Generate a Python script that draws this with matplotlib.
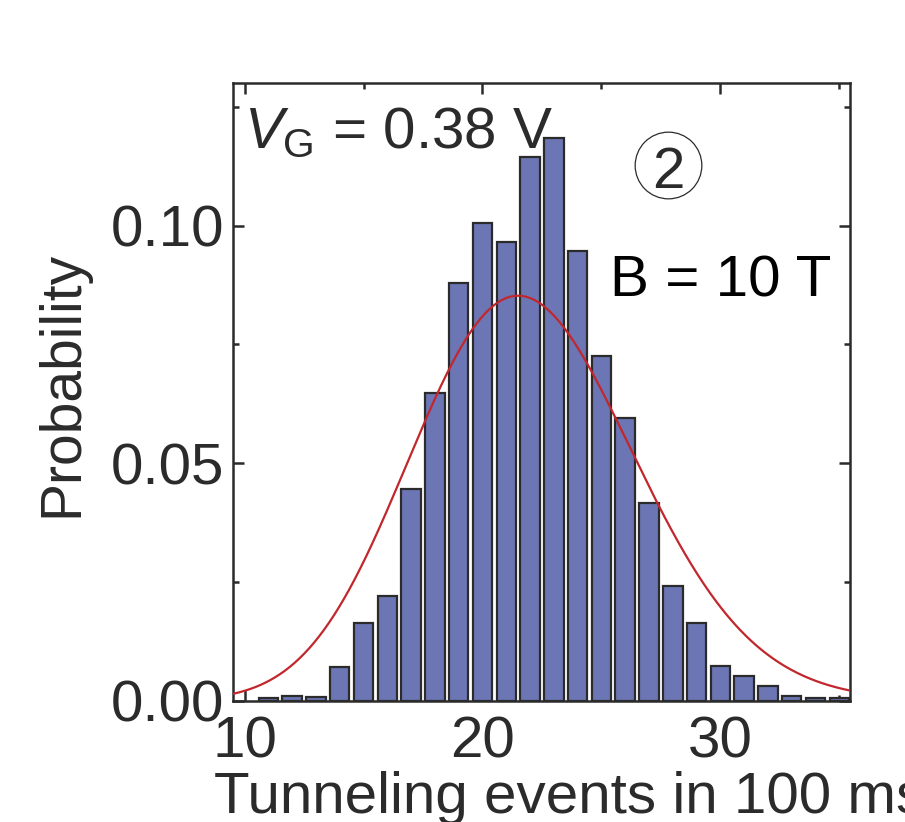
import math
import numpy as np
import matplotlib
matplotlib.use("Agg")
import matplotlib.pyplot as plt
from matplotlib.ticker import MultipleLocator, FormatStrFormatter

# ---- data ----
events = [11, 12, 13, 14, 15, 16, 17, 18, 19, 20, 21, 22, 23,
          24, 25, 26, 27, 28, 29, 30, 31, 32, 33, 34, 35]
probability = [0.0006, 0.0010, 0.0008, 0.0070, 0.0163, 0.0219, 0.0445,
               0.0648, 0.0879, 0.1005, 0.0966, 0.1144, 0.1185, 0.0947,
               0.0725, 0.0595, 0.0415, 0.0241, 0.0163, 0.0072, 0.0052,
               0.0031, 0.0010, 0.0005, 0.0005]
poisson_mean = 22.0          # fitted Poisson parameter (red curve)
x_ticks = [10, 20, 30]
y_ticks = [0.00, 0.05, 0.10]
xlim = (9.5, 35.45)
ylim = (0.0, 0.13)

plt.rcParams['font.family'] = ['Liberation Sans', 'DejaVu Sans']
plt.rcParams['mathtext.fontset'] = 'custom'
plt.rcParams['mathtext.rm'] = 'Liberation Sans'
plt.rcParams['mathtext.it'] = 'Liberation Sans:italic'

dark = '#2b2b2b'
W, H = 905, 822
fig = plt.figure(figsize=(W / 100, H / 100), dpi=100)
ax_l, ax_r, ax_b, ax_t = 232.7, 850.0, 700.5, 83.0
ax = fig.add_axes([ax_l / W, (H - ax_b) / H, (ax_r - ax_l) / W, (ax_b - ax_t) / H])

ax.bar(events, probability, width=0.82, color='#6c76b4', edgecolor=dark,
       linewidth=1.6, zorder=2)

xc = np.linspace(xlim[0], xlim[1], 500)
yc = np.exp(xc * math.log(poisson_mean) - poisson_mean
            - np.array([math.lgamma(v + 1) for v in xc]))
ax.plot(xc, yc, color='#c1272d', lw=1.6, zorder=3)

ax.set_xlim(*xlim)
ax.set_ylim(*ylim)
ax.set_xticks(x_ticks)
ax.set_yticks(y_ticks)
ax.xaxis.set_minor_locator(MultipleLocator(5))
ax.yaxis.set_minor_locator(MultipleLocator(0.025))
ax.yaxis.set_major_formatter(FormatStrFormatter('%.2f'))
ax.tick_params(which='both', direction='in', top=True, right=True,
               color=dark, width=1.8, labelcolor=dark, labelsize=42)
ax.tick_params(which='major', length=8)
ax.tick_params(which='minor', length=4.5)
ax.tick_params(axis='x', which='major', pad=11)
ax.tick_params(axis='y', which='major', pad=6)
for s in ax.spines.values():
    s.set_linewidth(1.8)
    s.set_color(dark)

# axis labels (the x label runs past the right edge, as in the reference)
ax.set_xlabel('Tunneling events in 100 ms', fontsize=42, color=dark,
              ha='left', va='baseline')
ax.xaxis.set_label_coords((214 - ax_l) / (ax_r - ax_l),
                          -(813 - ax_b) / (ax_b - ax_t))
ax.text((77 - ax_l) / (ax_r - ax_l), (ax_b - 384) / (ax_b - ax_t),
        'Probability', transform=ax.transAxes, rotation=90,
        rotation_mode='anchor', ha='center', va='baseline',
        fontsize=41, color=dark)

# annotations
ax.text((244 - ax_l) / (ax_r - ax_l), (ax_b - 148) / (ax_b - ax_t),
        r'$V_\mathrm{G}$ = 0.38 V', transform=ax.transAxes,
        ha='left', va='baseline', fontsize=42, color=dark, zorder=4)
ax.text((610 - ax_l) / (ax_r - ax_l), (ax_b - 296.7) / (ax_b - ax_t),
        'B = 10 T', transform=ax.transAxes, ha='left', va='baseline',
        fontsize=42, color='black', zorder=4)
cx, cy = (668 - ax_l) / (ax_r - ax_l), (ax_b - 165) / (ax_b - ax_t)
ax.plot([cx], [cy], marker='o', ms=48, mfc='none', mec=dark, mew=0.9,
        transform=ax.transAxes, clip_on=False, zorder=4)
ax.text(cx, (ax_b - 188) / (ax_b - ax_t), '2', transform=ax.transAxes,
        ha='center', va='baseline', fontsize=42, color=dark, zorder=4)

fig.savefig('out.png', dpi=100)
